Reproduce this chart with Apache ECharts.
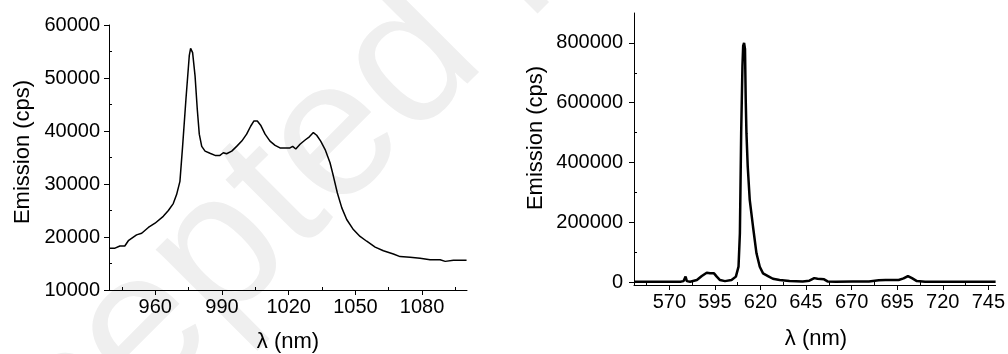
<!DOCTYPE html>
<html>
<head>
<meta charset="utf-8">
<script src="https://cdn.jsdelivr.net/npm/echarts@6/dist/echarts.min.js"></script>
<style>
  html, body { margin: 0; padding: 0; background: #fff; }
  #chart { width: 1008px; height: 354px; }
</style>
</head>
<body>
<div id="chart"></div>
<script>
// left panel: NIR emission
const leftWavelength = [939.5, 941.9, 944.1, 946.3, 947.9, 951.6, 953.9, 956.9, 959.9, 963.6, 965.9, 968.1, 969.6, 971.1, 972.3, 973.8, 975.3, 975.9, 976.8, 977.9, 978.9, 979.8, 980.9, 982.4, 984.6, 986.9, 989.1, 990.6, 992.1, 994.4, 996.6, 998.9, 1001.1, 1002.9, 1004.4, 1005.9, 1007.4, 1009.4, 1011.6, 1013.9, 1016.1, 1018.4, 1020.6, 1021.8, 1023.2, 1025.1, 1027.4, 1029.3, 1031.1, 1032.6, 1034.4, 1036.4, 1038.6, 1040.1, 1041.9, 1043.9, 1046.1, 1049.1, 1052.1, 1055.1, 1058.9, 1062.6, 1067.1, 1070.1, 1074.6, 1079.1, 1083.6, 1088.1, 1090.4, 1094.1, 1100];
const leftEmission = [17900, 17900, 18300, 18300, 19300, 20400, 20700, 21800, 22600, 23900, 25000, 26300, 28000, 30500, 37100, 46000, 54200, 55600, 54800, 50400, 44100, 39400, 37100, 36200, 35800, 35400, 35400, 35900, 35700, 36200, 37100, 38100, 39400, 40900, 41900, 41900, 41100, 39400, 38100, 37300, 36800, 36800, 36800, 37100, 36600, 37500, 38300, 38900, 39700, 39200, 38100, 36500, 34000, 31500, 28300, 25500, 23300, 21400, 20100, 19200, 18100, 17400, 16800, 16300, 16200, 16000, 15700, 15700, 15400, 15600, 15600];
const leftXTicks = [960, 990, 1020, 1050, 1080];
const leftXMinor = [945, 975, 1005, 1035, 1065, 1095];
const leftYTicks = [10000, 20000, 30000, 40000, 50000, 60000];
const leftYMinor = [15000, 25000, 35000, 45000, 55000];

// right panel: visible emission
const rightWavelength = [551, 576, 577.8, 578.9, 579.6, 581.4, 585.1, 587.8, 590.5, 592.3, 594.5, 596, 597.8, 600.5, 604.1, 606.5, 607.95, 608.7, 609.4, 610.1, 610.5, 611.0, 611.5, 611.9, 612.3, 613.0, 614.1, 615.9, 617.8, 619.6, 621.4, 624.1, 626.8, 630.5, 635.9, 643.2, 646.8, 649.5, 651.3, 654.9, 656.8, 661.3, 670.4, 679.5, 684.9, 688.6, 695.8, 698.5, 700.9, 703.1, 705.8, 710.3, 749];
const rightEmission = [1000, 1000, 3000, 18000, 3000, 1000, 6700, 20000, 31000, 29000, 29000, 18000, 6700, 3000, 6700, 18000, 51400, 163100, 498300, 721800, 790000, 800000, 780000, 610000, 498000, 386600, 274900, 185000, 96100, 51000, 29000, 20000, 11000, 6700, 3000, 2000, 4500, 13000, 11000, 9000, 2000, 1000, 2000, 2000, 5600, 6700, 6700, 12000, 20000, 13000, 3000, 1000, 1000];
const rightXTicks = [570, 595, 620, 645, 670, 695, 720, 745];
const rightXMinor = [557.5, 582.5, 607.5, 632.5, 657.5, 682.5, 707.5, 732.5];
const rightYTicks = [0, 200000, 400000, 600000, 800000];
const rightYMinor = [100000, 300000, 500000, 700000];

const FONT = 'Liberation Sans, Arial, sans-serif';
const black = '#000';
const plain = v => String(v);

function mainX(gridIndex, min, max, ticks) {
    return {
        type: 'value', gridIndex: gridIndex, min: min, max: max, position: 'bottom',
        axisLine: { onZero: false, lineStyle: { color: black, width: 1 } },
        axisTick: { length: 5, customValues: ticks, lineStyle: { color: black } },
        axisLabel: { customValues: ticks, formatter: plain, color: black, fontSize: 20, fontFamily: FONT, margin: 7 },
        splitLine: { show: false }
    };
}
function mainY(gridIndex, min, max, ticks, margin) {
    return {
        type: 'value', gridIndex: gridIndex, min: min, max: max, position: 'left',
        axisLine: { show: true, onZero: false, lineStyle: { color: black, width: 1 } },
        axisTick: { show: true, length: 5, customValues: ticks, lineStyle: { color: black } },
        axisLabel: { customValues: ticks, formatter: plain, color: black, fontSize: 20, fontFamily: FONT, margin: margin },
        splitLine: { show: false }
    };
}
// extra axes only for the small minor ticks
function minorAxis(gridIndex, min, max, ticks, pos) {
    return {
        type: 'value', gridIndex: gridIndex, min: min, max: max, position: pos,
        axisLine: { show: false, onZero: false },
        axisTick: { show: true, inside: true, length: 3, customValues: ticks, lineStyle: { color: black } },
        axisLabel: { show: false },
        splitLine: { show: false }
    };
}

const option = {
    backgroundColor: '#fff',
    animation: false,
    graphic: [
        {
            // faint diagonal watermark behind the plots
            type: 'text', z: -10, x: -125, y: 600, rotation: Math.PI / 4,
            style: { text: 'Accepted Manuscript', x: 0, y: 0, textAlign: 'left', textVerticalAlign: 'middle', font: '195px ' + FONT, fill: '#efefef' }
        },
        { type: 'text', x: 288, y: 342, style: { text: 'λ (nm)', textAlign: 'center', textVerticalAlign: 'middle', font: '22px ' + FONT, fill: black } },
        { type: 'text', x: 816, y: 339, style: { text: 'λ (nm)', textAlign: 'center', textVerticalAlign: 'middle', font: '22px ' + FONT, fill: black } },
        { type: 'text', x: 23, y: 152, rotation: Math.PI / 2, style: { text: 'Emission (cps)', textAlign: 'center', textVerticalAlign: 'middle', font: '22px ' + FONT, fill: black } },
        { type: 'text', x: 536, y: 138, rotation: Math.PI / 2, style: { text: 'Emission (cps)', textAlign: 'center', textVerticalAlign: 'middle', font: '22px ' + FONT, fill: black } }
    ],
    grid: [
        { left: 109, top: 25, width: 358, height: 265 },
        { left: 634, top: 13, width: 364, height: 272 }
    ],
    xAxis: [
        mainX(0, 939.2, 1100.2, leftXTicks),
        mainX(1, 550.6, 749, rightXTicks),
        minorAxis(0, 939.2, 1100.2, leftXMinor, 'bottom'),
        minorAxis(1, 550.6, 749, rightXMinor, 'bottom')
    ],
    yAxis: [
        mainY(0, 10000, 60000, leftYTicks, 9),
        mainY(1, -10000, 900000, rightYTicks, 11),
        minorAxis(0, 10000, 60000, leftYMinor, 'left'),
        minorAxis(1, -10000, 900000, rightYMinor, 'left')
    ],
    series: [
        {
            type: 'line', xAxisIndex: 0, yAxisIndex: 0,
            data: leftWavelength.map((w, i) => [w, leftEmission[i]]),
            showSymbol: false,
            lineStyle: { color: black, width: 1.5 }
        },
        {
            type: 'line', xAxisIndex: 1, yAxisIndex: 1,
            data: rightWavelength.map((w, i) => [w, rightEmission[i]]),
            showSymbol: false,
            lineStyle: { color: black, width: 2.5 }
        }
    ]
};

const chart = echarts.init(document.getElementById('chart'));
chart.setOption(option);
</script>
</body>
</html>
